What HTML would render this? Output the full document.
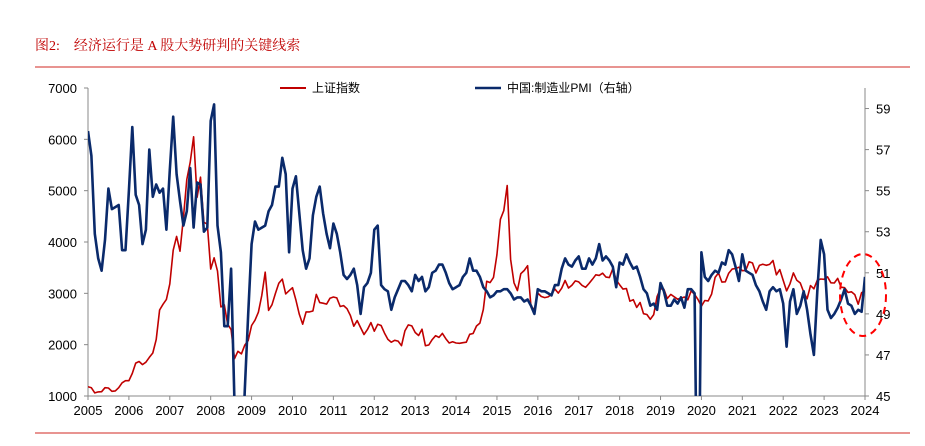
<!DOCTYPE html>
<html><head><meta charset="utf-8">
<style>
html,body{margin:0;padding:0;background:#fff;width:925px;height:446px;overflow:hidden;}
svg{display:block;font-family:"Liberation Sans","Noto Sans CJK SC",sans-serif;}
</style></head>
<body>
<svg id="c" width="925" height="446" viewBox="0 0 925 446" xmlns="http://www.w3.org/2000/svg">
<text x="35" y="50" font-family="'Liberation Serif','Noto Serif CJK SC',serif" font-size="14" fill="#c00000" style="white-space:pre" xml:space="preserve">图2:    经济运行是 A 股大势研判的关键线索</text>
<line x1="35" y1="67" x2="910" y2="67" stroke="#d9534f" stroke-width="1.2"/>
<line x1="35" y1="433" x2="910" y2="433" stroke="#d9534f" stroke-width="1.2"/>
<g>
<line x1="280" y1="88" x2="306" y2="88" stroke="#c00000" stroke-width="2"/>
<text x="312" y="92" font-size="12" fill="#000">上证指数</text>
<line x1="475" y1="88" x2="501" y2="88" stroke="#0a2a6b" stroke-width="2.5"/>
<text x="507" y="92" font-size="12" fill="#000">中国:制造业PMI（右轴）</text>
</g>
<defs><clipPath id="pc"><rect x="88" y="80" width="777" height="316"/></clipPath></defs>
<g id="axes"></g>
<g id="series" clip-path="url(#pc)"></g>
<ellipse cx="863" cy="295" rx="23" ry="41" fill="none" stroke="#ff0000" stroke-width="2" stroke-dasharray="7,5"/>
</svg>
<script>
const years = [2005,2006,2007,2008,2009,2010,2011,2012,2013,2014,2015,2016,2017,2018,2019,2020,2021,2022,2023,2024];
const leftTicks = [1000,2000,3000,4000,5000,6000,7000];
const rightTicks = [45,47,49,51,53,55,57,59];
// monthly values starting Mar 2005
const shIndex = [1181,1159,1060,1080,1083,1162,1155,1092,1099,1161,
1258,1299,1298,1440,1641,1672,1612,1658,1752,1837,2099,2675,
2786,2881,3183,3841,4109,3820,4471,5218,5552,6050,4871,5262,
4383,4348,3473,3693,3433,2736,2775,2397,2293,1729,1871,1821,
1991,2082,2374,2477,2633,2959,3412,2668,2779,2996,3195,3277,
2989,3051,3110,2871,2592,2398,2638,2638,2656,2979,2820,2808,
2790,2905,2928,2911,2743,2762,2701,2568,2359,2469,2333,2199,
2293,2429,2263,2397,2373,2226,2103,2048,2086,2069,1980,2269,
2385,2366,2237,2178,2301,1979,1994,2098,2175,2141,2220,2116,
2033,2056,2033,2026,2039,2048,2202,2217,2364,2420,2683,3235,
3210,3310,3748,4442,4612,5100,3664,3206,3053,3383,3445,3539,
2738,2688,3004,2938,2917,2930,2979,3085,3005,3100,3250,3104,
3159,3242,3223,3155,3117,3192,3273,3361,3349,3393,3317,3307,
3481,3259,3169,3082,3095,2847,2876,2725,2821,2603,2588,2494,
2585,2941,3091,3078,2899,2979,2933,2886,2905,2929,2872,3050,
2977,2880,2750,2860,2852,2985,3310,3396,3218,3225,3392,3473,
3483,3509,3441,3447,3615,3591,3397,3544,3568,3547,3564,3640,
3361,3462,3252,3047,3186,3399,3253,3202,3024,2893,3151,3089,
3255,3280,3273,3323,3205,3202,3291,3120,3110,3018,3030,2975,
2789,3015,3041];
const pmi = [57.9,56.7,52.9,51.7,51.1,52.6,55.1,54.1,54.2,54.3,52.1,52.1,
55.0,58.1,54.8,54.3,52.4,53.1,57.0,54.7,55.3,54.9,55.1,53.1,
56.0,58.6,55.8,54.5,53.3,54.0,56.1,53.2,55.4,55.3,53.0,53.2,
58.4,59.2,53.3,52.0,48.4,48.4,51.2,44.6,38.8,41.2,45.3,49.0,
52.4,53.5,53.1,53.2,53.3,54.0,54.3,55.2,55.2,56.6,55.8,52.0,
55.1,55.7,53.9,52.1,51.2,51.7,53.8,54.7,55.2,53.9,52.9,52.2,
53.4,52.9,52.0,50.9,50.7,50.9,51.2,50.4,49.0,50.3,50.5,51.0,
53.1,53.3,50.4,50.2,50.1,49.2,49.8,50.2,50.6,50.6,50.4,50.1,
50.9,50.6,50.8,50.1,50.3,51.0,51.1,51.4,51.4,51.0,50.5,50.2,
50.3,50.4,50.8,51.0,51.7,51.1,51.1,50.8,50.3,50.1,49.8,49.9,
50.1,50.1,50.2,50.2,50.0,49.7,49.8,49.8,49.6,49.7,49.4,49.0,
50.2,50.1,50.1,50.0,49.9,50.4,50.4,51.2,51.7,51.4,51.3,51.6,
51.8,51.2,51.2,51.7,51.4,51.7,52.4,51.6,51.8,51.6,51.3,50.3,
51.5,51.4,51.9,51.5,51.2,51.3,50.8,50.2,50.0,49.4,49.5,49.2,
50.5,50.1,49.4,49.4,49.7,49.5,49.8,49.3,50.2,50.2,50.0,35.7,
52.0,50.8,50.6,50.9,51.1,51.0,51.5,51.4,52.1,51.9,51.3,50.6,
51.9,51.1,51.0,50.9,50.4,50.1,49.6,49.2,50.1,50.3,50.1,50.2,
49.5,47.4,49.6,50.2,49.0,49.4,50.1,49.2,48.0,47.0,50.1,52.6,
51.9,49.2,48.8,49.0,49.3,49.7,50.2,49.5,49.4,49.0,49.2,49.1,
50.8];
const X0=88,X1=865,Y0=396,Y1=88;
const xYear = y => X0 + (y-2005)*(X1-X0)/19;
const xIdx = i => X0 + i*(X1-X0)/228;
const yL = v => Y0 - (v-1000)*(Y0-Y1)/6000;
const yR = v => Y0 - (v-45)*(Y0-Y1)/15;
const NS="http://www.w3.org/2000/svg";
const axes=document.getElementById('axes'), series=document.getElementById('series');
function mk(tag,attrs,parent,txt){const e=document.createElementNS(NS,tag);for(const k in attrs)e.setAttribute(k,attrs[k]);if(txt!==undefined)e.textContent=txt;parent.appendChild(e);return e;}
let e;
e=mk('line',{x1:X0,y1:Y1,x2:X0,y2:Y0,stroke:'#888','stroke-width':1},axes);


e=mk('line',{x1:X1,y1:Y1,x2:X1,y2:Y0,stroke:'#888','stroke-width':1},axes);


e=mk('line',{x1:X0,y1:Y0,x2:X1,y2:Y0,stroke:'#888','stroke-width':1},axes);


leftTicks.forEach(v=>{const y=yL(v);
 mk('line',{x1:X0-4,y1:y,x2:X0,y2:y,stroke:'#888'},axes);
 e=mk('text',{x:77,y:y+5,'text-anchor':'end','font-size':13,fill:'#000'},axes,String(v));
 
 });
rightTicks.forEach(v=>{const y=yR(v);
 mk('line',{x1:X1,y1:y,x2:X1+4,y2:y,stroke:'#888'},axes);
 e=mk('text',{x:876,y:y+5,'font-size':13,fill:'#000'},axes,String(v));
 
 });
years.forEach(yv=>{const x=xYear(yv);
 mk('line',{x1:x,y1:Y0,x2:x,y2:Y0+4,stroke:'#888'},axes);
 e=mk('text',{x:x,y:415,'text-anchor':'middle','font-size':13,fill:'#000'},axes,String(yv));
 
 });
e=mk('polyline',{points:shIndex.map((v,i)=>xIdx(i).toFixed(1)+','+yL(v).toFixed(1)).join(' '),fill:'none',stroke:'#c00000','stroke-width':1.6,'stroke-linejoin':'round'},series);


e=mk('polyline',{points:pmi.map((v,i)=>xIdx(i).toFixed(1)+','+yR(v).toFixed(1)).join(' '),fill:'none',stroke:'#0a2a6b','stroke-width':2.6,'stroke-linejoin':'round'},series);


</script>
</body></html>
